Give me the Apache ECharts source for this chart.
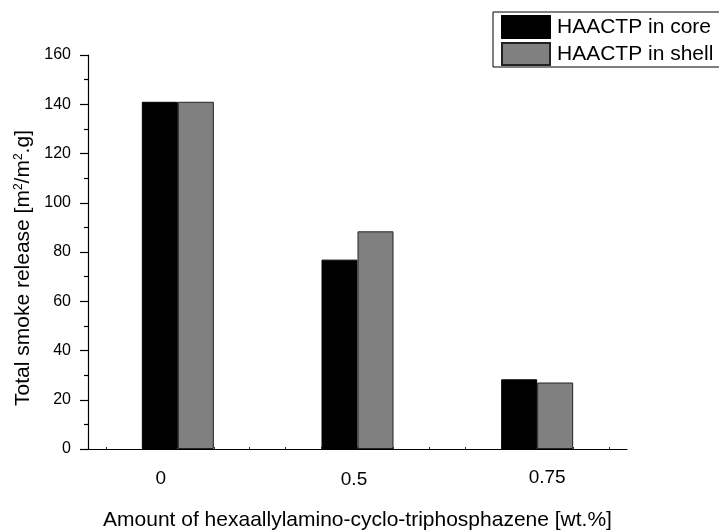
<!DOCTYPE html>
<html>
<head>
<meta charset="utf-8">
<script src="https://cdn.jsdelivr.net/npm/echarts@6/dist/echarts.min.js"></script>
<style>html,body{margin:0;padding:0;background:#fff;}#chart{width:719px;height:530px;}</style>
</head>
<body>
<div id="chart"></div>
<script>
const categories = ['0', '0.5', '0.75'];
const seriesNames = ['HAACTP in core', 'HAACTP in shell'];
const coreValues = [141, 76.9, 28.3];
const shellValues = [141, 88.4, 27.0];
const yTicks = { min: 0, max: 160, interval: 20 };

const FONT = 'Liberation Sans, Arial, Helvetica, sans-serif';
const labelStyles = {
  c0: { padding: [1, 34, 0, 0] },
  c1: { padding: [2, 7, 0, 0] },
  c2: { padding: [0, 0, 0, 20] }
};
Object.keys(labelStyles).forEach(k => Object.assign(labelStyles[k], { fontSize: 19, fontFamily: FONT, color: '#000' }));

const minorTickSlots = [];
for (let i = 0; i < categories.length * 5; i++) minorTickSlots.push('t' + i);

const chart = echarts.init(document.getElementById('chart'));
chart.setOption({
  animation: false,
  backgroundColor: '#fff',
  textStyle: { fontFamily: FONT },
  grid: { left: 88, right: 92, top: 55, bottom: 81, containLabel: false, outerBoundsMode: 'none' },
  legend: {
    orient: 'vertical',
    left: 493, top: 12,
    padding: [3, 30, 1, 8],
    icon: 'rect',
    itemWidth: 48, itemHeight: 22, itemGap: 3,
    borderColor: '#000', borderWidth: 1,
    textStyle: { fontSize: 21, lineHeight: 22, color: '#000', fontFamily: FONT, padding: [0, 0, 0, 2] },
    data: seriesNames
  },
  xAxis: [{
    type: 'category',
    data: categories,
    position: 'bottom',
    axisLine: { lineStyle: { color: '#000', width: 1.2 } },
    axisTick: { show: false },
    axisLabel: {
      margin: 19,
      formatter: (v, i) => '{c' + i + '|' + v + '}',
      rich: labelStyles
    },
    name: 'Amount of hexaallylamino-cyclo-triphosphazene [wt.%]',
    nameLocation: 'middle',
    nameGap: 61,
    nameTextStyle: { fontSize: 21, color: '#000', fontFamily: FONT }
  }, {
    type: 'category',
    data: minorTickSlots,
    position: 'bottom',
    axisLine: { show: false },
    axisTick: { show: true, inside: true, length: 2, alignWithLabel: true, lineStyle: { color: '#333' } },
    axisLabel: { show: false }
  }],
  yAxis: {
    type: 'value',
    min: yTicks.min, max: yTicks.max, interval: yTicks.interval,
    axisLine: { show: true, lineStyle: { color: '#000', width: 1.2 } },
    axisTick: { show: true, length: 8, lineStyle: { color: '#000', width: 1.2 } },
    minorTick: { show: true, splitNumber: 2, length: 4, lineStyle: { color: '#000', width: 1.2 } },
    splitLine: { show: false },
    axisLabel: { fontSize: 16, color: '#000', margin: 17, fontFamily: FONT },
    name: 'Total smoke release [m{sup|2}/m{sup|2}.g]',
    nameLocation: 'middle',
    nameGap: 52,
    nameRotate: 90,
    nameTextStyle: {
      fontSize: 21, color: '#000', fontFamily: FONT,
      padding: [0, 32, 0, 0],
      rich: { sup: { fontSize: 12, verticalAlign: 'top', padding: [0, 0, 8, 0], fontFamily: FONT, color: '#000' } }
    }
  },
  series: [{
    name: seriesNames[0], type: 'bar', data: coreValues,
    barWidth: 36, barGap: '0%',
    itemStyle: { color: '#000', borderColor: '#000', borderWidth: 1 }
  }, {
    name: seriesNames[1], type: 'bar', data: shellValues,
    barWidth: 36, barGap: '0%',
    itemStyle: { color: '#808080', borderColor: '#222', borderWidth: 1 }
  }]
});
</script>
</body>
</html>
